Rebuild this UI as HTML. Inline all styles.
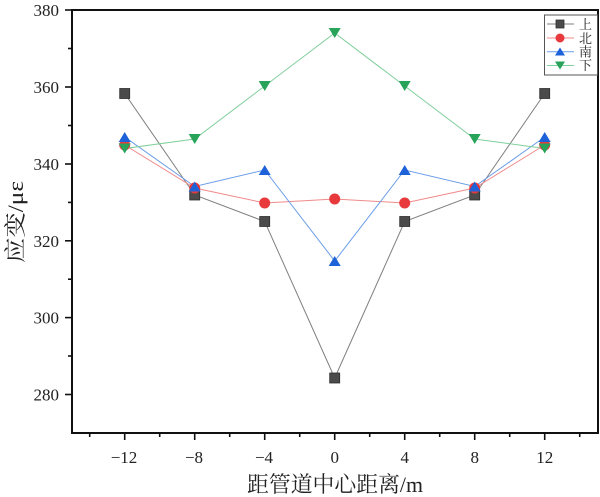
<!DOCTYPE html>
<html><head><meta charset="utf-8"><style>
html,body{margin:0;padding:0;background:#fff;}
svg{display:block;}
.t{font-family:"Liberation Serif","Noto Serif CJK SC",serif;font-size:17px;fill:#222;}
.c{font-family:"Liberation Serif","Noto Serif CJK SC",serif;fill:#222;}
</style></head><body>
<svg width="600" height="497" viewBox="0 0 600 497" xmlns="http://www.w3.org/2000/svg">
<rect width="600" height="497" fill="#fff"/>
<g fill="none" stroke-width="1">
<polyline stroke="#7f7f7f" points="124.7,93.5 194.7,195 264.7,221.5 334.7,378 404.7,221.5 474.7,195 544.7,93.5"/>
<polyline stroke="#f08a8a" points="124.7,145 194.7,188 264.7,203 334.7,199 404.7,203 474.7,188 544.7,145"/>
<polyline stroke="#6a9de8" points="124.7,137 194.7,186.5 264.7,170 334.7,261 404.7,170 474.7,186.5 544.7,137"/>
<polyline stroke="#80cf9c" points="124.7,148.5 194.7,139 264.7,86 334.7,33 404.7,86 474.7,139 544.7,148.5"/>
</g>
<g fill="#4b4b4b" stroke="#2e2e2e" stroke-width="0.8">
<rect x="119.7" y="88.5" width="10" height="10"/>
<rect x="189.7" y="190" width="10" height="10"/>
<rect x="259.7" y="216.5" width="10" height="10"/>
<rect x="329.7" y="373" width="10" height="10"/>
<rect x="399.7" y="216.5" width="10" height="10"/>
<rect x="469.7" y="190" width="10" height="10"/>
<rect x="539.7" y="88.5" width="10" height="10"/>
</g>
<g fill="#e8393c">
<circle cx="124.7" cy="145" r="5.5"/>
<circle cx="194.7" cy="188" r="5.5"/>
<circle cx="264.7" cy="203" r="5.5"/>
<circle cx="334.7" cy="199" r="5.5"/>
<circle cx="404.7" cy="203" r="5.5"/>
<circle cx="474.7" cy="188" r="5.5"/>
<circle cx="544.7" cy="145" r="5.5"/>
</g>
<g fill="#1d62d8">
<polygon points="118.7,142 130.7,142 124.7,132"/>
<polygon points="188.7,191.5 200.7,191.5 194.7,181.5"/>
<polygon points="258.7,175 270.7,175 264.7,165"/>
<polygon points="328.7,266 340.7,266 334.7,256"/>
<polygon points="398.7,175 410.7,175 404.7,165"/>
<polygon points="468.7,191.5 480.7,191.5 474.7,181.5"/>
<polygon points="538.7,142 550.7,142 544.7,132"/>
</g>
<g fill="#28a35a">
<polygon points="118.7,143.5 130.7,143.5 124.7,153.5"/>
<polygon points="188.7,134 200.7,134 194.7,144"/>
<polygon points="258.7,81 270.7,81 264.7,91"/>
<polygon points="328.7,28 340.7,28 334.7,38"/>
<polygon points="398.7,81 410.7,81 404.7,91"/>
<polygon points="468.7,134 480.7,134 474.7,144"/>
<polygon points="538.7,143.5 550.7,143.5 544.7,153.5"/>
</g>
<rect x="72" y="10" width="526" height="423" fill="none" stroke="#111" stroke-width="2"/>
<g stroke="#111" stroke-width="1.6">
<line x1="65" y1="10" x2="72" y2="10"/>
<line x1="65" y1="87" x2="72" y2="87"/>
<line x1="65" y1="164" x2="72" y2="164"/>
<line x1="65" y1="240.8" x2="72" y2="240.8"/>
<line x1="65" y1="317.6" x2="72" y2="317.6"/>
<line x1="65" y1="394.5" x2="72" y2="394.5"/>
<line x1="68" y1="48.5" x2="72" y2="48.5"/>
<line x1="68" y1="125.5" x2="72" y2="125.5"/>
<line x1="68" y1="202.4" x2="72" y2="202.4"/>
<line x1="68" y1="279.2" x2="72" y2="279.2"/>
<line x1="68" y1="356" x2="72" y2="356"/>
<line x1="124.7" y1="433" x2="124.7" y2="440"/>
<line x1="194.7" y1="433" x2="194.7" y2="440"/>
<line x1="264.7" y1="433" x2="264.7" y2="440"/>
<line x1="334.7" y1="433" x2="334.7" y2="440"/>
<line x1="404.7" y1="433" x2="404.7" y2="440"/>
<line x1="474.7" y1="433" x2="474.7" y2="440"/>
<line x1="544.7" y1="433" x2="544.7" y2="440"/>
<line x1="89.7" y1="433" x2="89.7" y2="437"/>
<line x1="159.7" y1="433" x2="159.7" y2="437"/>
<line x1="229.7" y1="433" x2="229.7" y2="437"/>
<line x1="299.7" y1="433" x2="299.7" y2="437"/>
<line x1="369.7" y1="433" x2="369.7" y2="437"/>
<line x1="439.7" y1="433" x2="439.7" y2="437"/>
<line x1="509.7" y1="433" x2="509.7" y2="437"/>
<line x1="579.7" y1="433" x2="579.7" y2="437"/>
</g>
<g class="t" text-anchor="end">
<text x="59" y="16">380</text>
<text x="59" y="93">360</text>
<text x="59" y="170">340</text>
<text x="59" y="246.8">320</text>
<text x="59" y="323.6">300</text>
<text x="59" y="400.5">280</text>
</g>
<g class="t" text-anchor="middle">
<text x="124" y="463">−12</text>
<text x="194" y="463">−8</text>
<text x="264" y="463">−4</text>
<text x="334.7" y="463">0</text>
<text x="404.7" y="463">4</text>
<text x="474.7" y="463">8</text>
<text x="544.7" y="463">12</text>
</g>
<text class="c" x="335" y="492" font-size="22" text-anchor="middle" textLength="176" lengthAdjust="spacingAndGlyphs">距管道中心距离/m</text>
<text class="c" transform="translate(23,222) rotate(-90)" x="0" y="0" font-size="22" text-anchor="middle" textLength="82" lengthAdjust="spacingAndGlyphs">应变/με</text>
<rect x="544.5" y="15" width="53" height="60" fill="#fff" stroke="#555" stroke-width="1"/>
<line x1="547" y1="24" x2="574" y2="24" stroke="#7f7f7f" stroke-width="1"/>
<rect x="556" y="20" width="8" height="8" fill="#4b4b4b" stroke="#2e2e2e" stroke-width="0.8"/>
<line x1="547" y1="38" x2="574" y2="38" stroke="#f08a8a" stroke-width="1"/>
<circle cx="560" cy="38" r="4.5" fill="#e8393c"/>
<line x1="547" y1="51.7" x2="574" y2="51.7" stroke="#6a9de8" stroke-width="1"/>
<polygon points="555,55.5 565,55.5 560,47.5" fill="#1d62d8"/>
<line x1="547" y1="65.5" x2="574" y2="65.5" stroke="#80cf9c" stroke-width="1"/>
<polygon points="555,61.5 565,61.5 560,69.5" fill="#28a35a"/>
<g class="c" font-size="13">
<text x="579" y="29">上</text>
<text x="579" y="43">北</text>
<text x="579" y="56.5">南</text>
<text x="579" y="70">下</text>
</g>
</svg>
</body></html>
